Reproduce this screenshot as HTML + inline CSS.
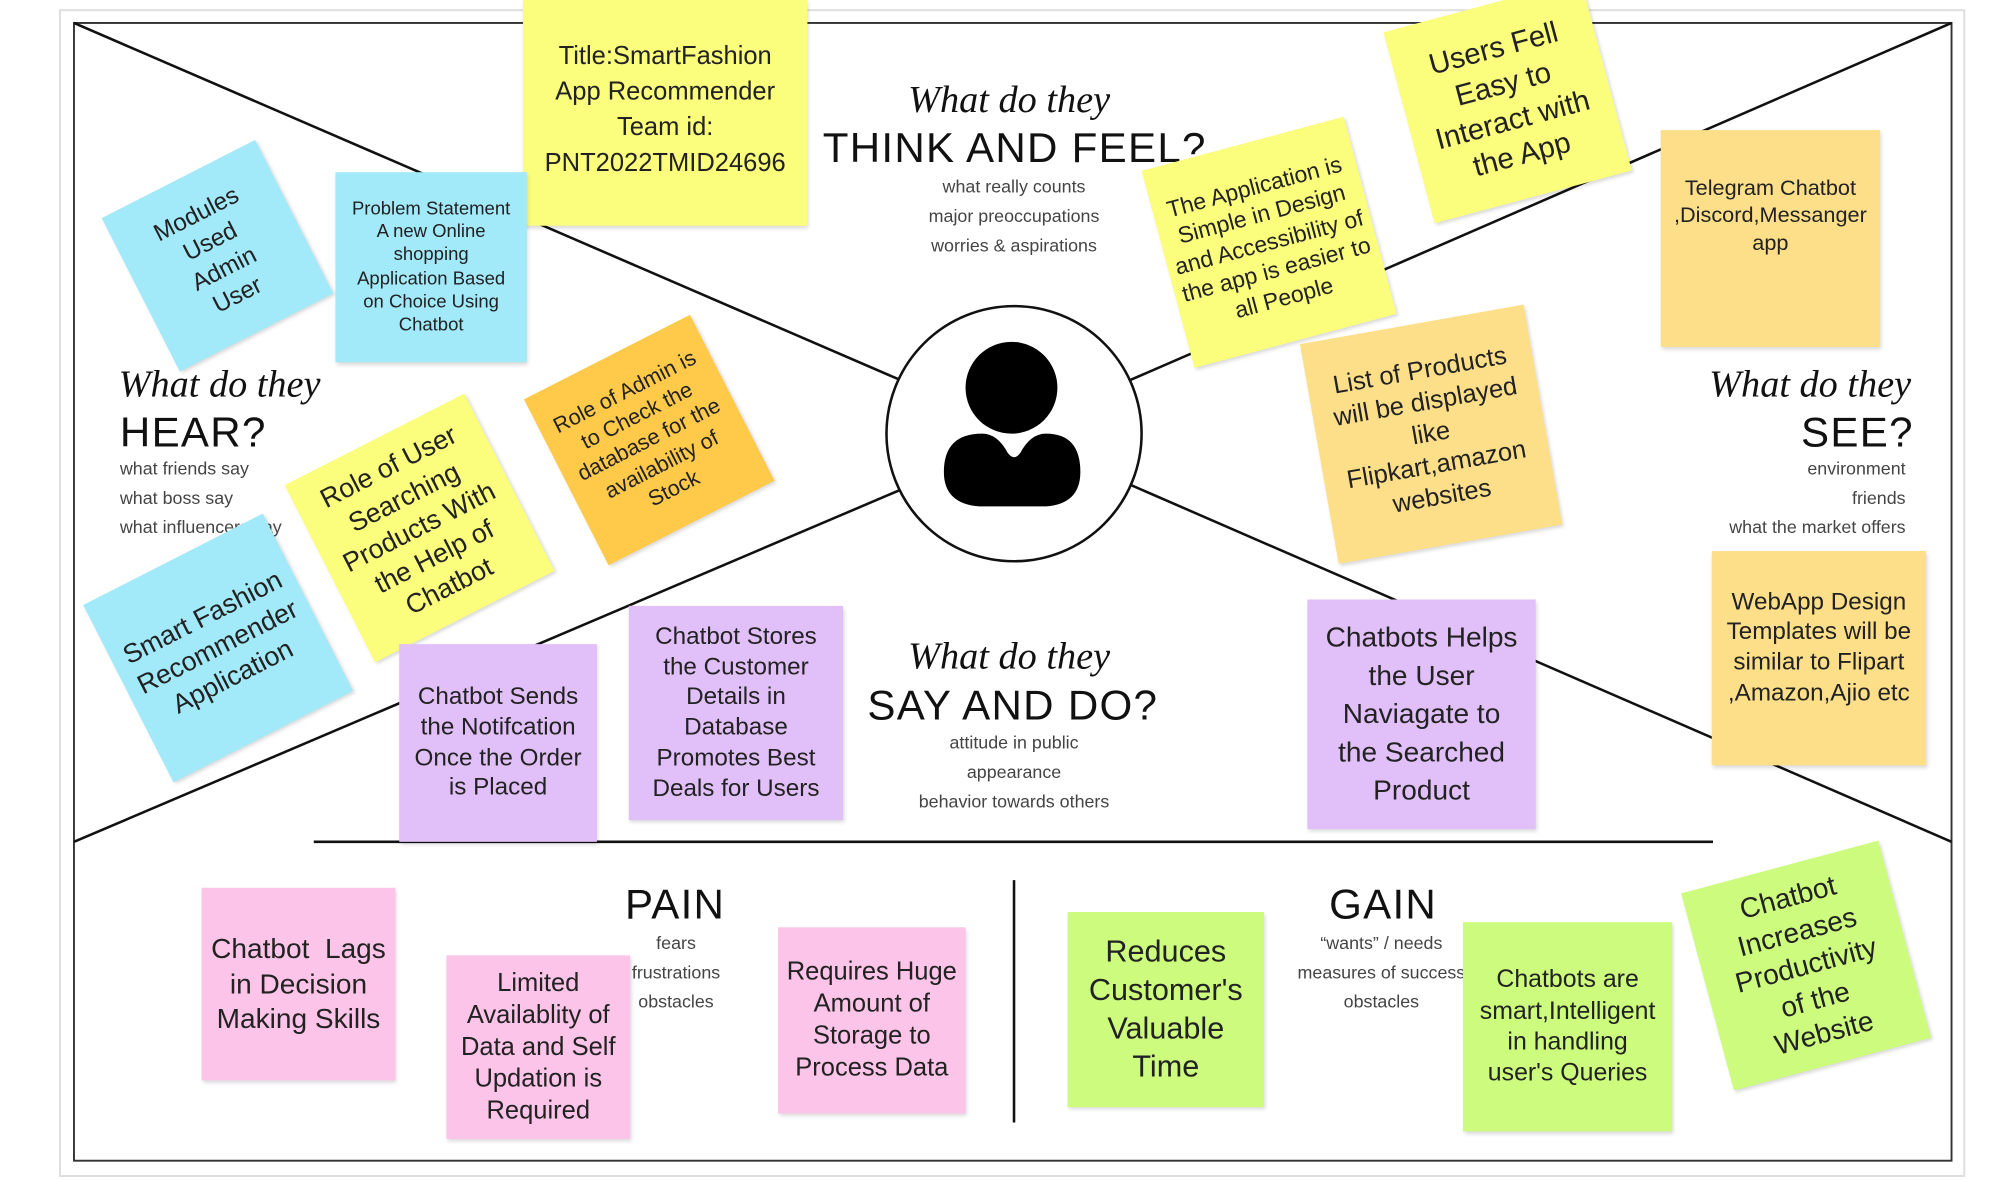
<!DOCTYPE html>
<html><head><meta charset="utf-8"><style>
html,body{margin:0;padding:0;background:#fff;}
body{width:2000px;height:1180px;overflow:hidden;position:relative;}
#w{position:absolute;left:0;top:0;width:1568px;height:925px;transform:scale(1.27551);transform-origin:0 0;font-family:"Liberation Sans",sans-serif;}
.s{position:absolute;display:flex;align-items:center;justify-content:center;text-align:center;color:#222;box-sizing:border-box;padding:4px;line-height:1.25;box-shadow:1px 2px 3px rgba(0,0,0,.15);}
.y{background:#fbfd7c}.c{background:#a2e9f9}.o{background:#ffc94a}.lo{background:#fddf8a}.p{background:#e1bff8}.k{background:#fbc4e8}.g{background:#ccfb7d}
.t{position:absolute;color:#111;}
.sc{font-family:"Liberation Serif",serif;font-style:italic;font-size:30px;}
.h{font-size:33px;letter-spacing:1px;}
.sm{font-size:14px;color:#444;line-height:23px;}
</style></head><body><div id="w">
<svg width="1568" height="925" style="position:absolute;left:0;top:0">
<rect x="47" y="8" width="1493" height="914" fill="none" stroke="#ddd" stroke-width="1.5"/>
<rect x="58" y="18" width="1472" height="892" fill="none" stroke="#333" stroke-width="1.5"/>
<line x1="58" y1="18" x2="706" y2="298" stroke="#111" stroke-width="2"/>
<line x1="1530" y1="18" x2="886" y2="298" stroke="#111" stroke-width="2"/>
<line x1="58" y1="660" x2="706" y2="384" stroke="#111" stroke-width="2"/>
<line x1="1530" y1="660" x2="886" y2="380" stroke="#111" stroke-width="2"/>
<line x1="246" y1="660" x2="1343" y2="660" stroke="#111" stroke-width="2"/>
<line x1="795" y1="690" x2="795" y2="880" stroke="#111" stroke-width="2"/>
<circle cx="795" cy="340" r="100" fill="#fff" stroke="#111" stroke-width="2"/>
<circle cx="793" cy="304" r="36" fill="#000"/>
<path d="M740 370 Q740 340 770 340 Q782 340 790 355 Q795 362 800 355 Q808 340 820 340 Q847 340 847 370 Q847 395 820 397 L768 397 Q740 395 740 370 Z" fill="#000"/>
</svg>

<div class="t sc" style="left:712px;top:62px">What do they</div>
<div class="t h" style="left:645px;top:97px">THINK AND FEEL?</div>
<div class="t sm" style="left:700px;top:135px;width:190px;text-align:center">what really counts<br>major preoccupations<br>worries &amp; aspirations</div>

<div class="t sc" style="left:93px;top:285px">What do they</div>
<div class="t h" style="left:94px;top:320px">HEAR?</div>
<div class="t sm" style="left:94px;top:356px">what friends say<br>what boss say<br>what influencers say</div>

<div class="t sc" style="left:1340px;top:285px">What do they</div>
<div class="t h" style="left:1412px;top:320px">SEE?</div>
<div class="t sm" style="left:1300px;top:356px;width:194px;text-align:right">environment<br>friends<br>what the market offers</div>

<div class="t sc" style="left:712px;top:498px">What do they</div>
<div class="t h" style="left:680px;top:534px">SAY AND DO?</div>
<div class="t sm" style="left:700px;top:571px;width:190px;text-align:center">attitude in public<br>appearance<br>behavior towards others</div>

<div class="t h" style="left:490px;top:690px">PAIN</div>
<div class="t sm" style="left:480px;top:728px;width:100px;text-align:center">fears<br>frustrations<br>obstacles</div>
<div class="t h" style="left:1042px;top:690px">GAIN</div>
<div class="t sm" style="left:1010px;top:728px;width:146px;text-align:center">“wants” / needs<br>measures of success<br>obstacles</div>

<div class="s y" style="left:410px;top:0;width:223px;height:177px;font-size:20px;line-height:28px;padding:4px 10px 10px">Title:SmartFashion App Recommender Team id: PNT2022TMID24696</div>
<div class="s c" style="left:103px;top:133px;width:135px;height:135px;font-size:19px;padding:20px 28px;transform:rotate(-27deg)">Modules Used Admin User</div>
<div class="s c" style="left:263px;top:135px;width:150px;height:149px;font-size:14.5px;padding:4px 10px">Problem Statement A new Online shopping Application Based on Choice Using Chatbot</div>
<div class="s y" style="left:250px;top:336px;width:158px;height:156px;font-size:21px;padding:4px 8px;transform:rotate(-27deg)">Role of User Searching Products With the Help of Chatbot</div>
<div class="s o" style="left:436px;top:272px;width:146px;height:146px;font-size:17px;padding:4px 10px;transform:rotate(-27deg)">Role of Admin is to Check the database for the availability of Stock</div>
<div class="s c" style="left:92px;top:430px;width:158px;height:156px;font-size:21px;transform:rotate(-27deg)">Smart Fashion Recommender Application</div>
<div class="s p" style="left:313px;top:505px;width:155px;height:155px;font-size:19px">Chatbot Sends the Notifcation Once the Order is Placed</div>
<div class="s p" style="left:493px;top:475px;width:168px;height:168px;font-size:19px;padding:4px 14px">Chatbot Stores the Customer Details in Database Promotes Best Deals for Users</div>
<div class="s p" style="left:1025px;top:470px;width:179px;height:180px;font-size:22px;line-height:30px;padding:4px 10px">Chatbots Helps the User Naviagate to the Searched Product</div>
<div class="s y" style="left:913px;top:110px;width:164px;height:160px;font-size:18px;transform:rotate(-15deg)">The Application is Simple in Design and Accessibility of the app is easier to all People</div>
<div class="s y" style="left:1102px;top:2px;width:160px;height:155px;font-size:23px;transform:rotate(-15deg)">Users Fell Easy to Interact with the App</div>
<div class="s lo" style="left:1302px;top:102px;width:172px;height:170px;font-size:17px;padding-bottom:40px">Telegram Chatbot ,Discord,Messanger app</div>
<div class="s lo" style="left:1033px;top:253px;width:178px;height:175px;font-size:20px;padding:4px 12px;transform:rotate(-10deg)">List of Products will be displayed like Flipkart,amazon websites</div>
<div class="s lo" style="left:1342px;top:432px;width:168px;height:168px;font-size:19px;padding-bottom:20px">WebApp Design Templates will be similar to Flipart ,Amazon,Ajio etc</div>
<div class="s k" style="left:158px;top:696px;width:152px;height:151px;font-size:22px">Chatbot &nbsp;Lags in Decision Making Skills</div>
<div class="s k" style="left:350px;top:749px;width:144px;height:144px;font-size:20px">Limited Availablity of Data and Self Updation is Required</div>
<div class="s k" style="left:610px;top:727px;width:147px;height:146px;font-size:20px">Requires Huge Amount of Storage to Process Data</div>
<div class="s g" style="left:837px;top:715px;width:154px;height:153px;font-size:24px">Reduces Customer's Valuable Time</div>
<div class="s g" style="left:1147px;top:723px;width:164px;height:164px;font-size:19.5px;padding:4px 10px">Chatbots are smart,Intelligent in handling user's Queries</div>
<div class="s g" style="left:1336px;top:677px;width:160px;height:160px;font-size:22px;padding:4px 16px;transform:rotate(-15deg)">Chatbot Increases Productivity of the Website</div>
</div></body></html>
